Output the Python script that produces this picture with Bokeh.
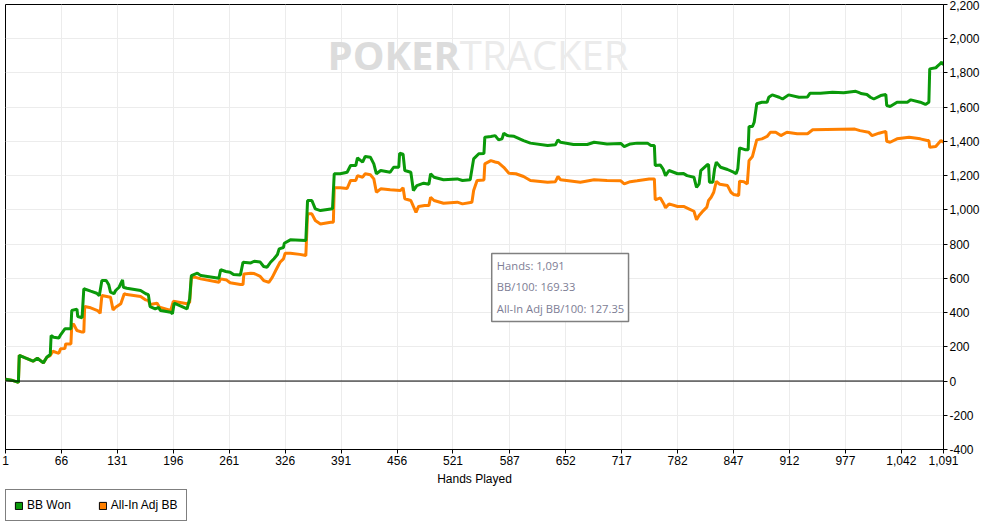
from bokeh.plotting import figure
from bokeh.layouts import column
from bokeh.models import (Range1d, FixedTicker, NumeralTickFormatter, Span, BoxAnnotation,
                          Label, Legend, LegendItem)
from bokeh.embed import file_html
from bokeh.resources import INLINE

# ---------------- data ----------------
x_ticks = [1, 66, 131, 196, 261, 326, 391, 456, 521, 587, 652, 717, 782, 847, 912, 977, 1042, 1091]
y_ticks = [-400, -200, 0, 200, 400, 600, 800, 1000, 1200, 1400, 1600, 1800, 2000, 2200]

hands_bb = [1, 8, 16, 17, 24, 33, 38, 45, 49, 53, 54, 57, 63, 65, 70, 77, 78, 84, 85, 90,
            92, 100, 107, 110, 113, 118, 121, 123, 127, 129, 133, 137, 138, 142, 158, 164, 167, 169, 175, 179,
            181, 193, 195, 197, 212, 215, 217, 224, 228, 249, 251, 257, 262, 266, 274, 277, 286, 290, 297, 301,
            305, 309, 313, 317, 319, 324, 325, 332, 350, 352, 357, 361, 367, 381, 383, 390, 398, 402, 408, 410,
            416, 419, 425, 429, 432, 437, 448, 452, 458, 459, 463, 465, 472, 475, 479, 487, 493, 495, 499, 510,
            526, 532, 541, 545, 551, 557, 558, 565, 570, 574, 578, 580, 584, 592, 603, 611, 631, 640, 643, 646,
            661, 677, 685, 700, 716, 720, 727, 735, 747, 751, 755, 756, 762, 765, 768, 772, 782, 789, 793, 801,
            804, 807, 809, 816, 818, 819, 823, 825, 827, 832, 840, 847, 850, 852, 854, 861, 864, 865, 869, 871,
            874, 880, 886, 888, 892, 900, 904, 911, 923, 933, 936, 948, 962, 975, 989, 993, 995, 1002, 1006, 1010,
            1018, 1024, 1025, 1029, 1037, 1049, 1053, 1064, 1070, 1074, 1075, 1082, 1084, 1087, 1089, 1091]
bb_won = [10, 5, -8, 150, 135, 116, 133, 106, 139, 155, 266, 256, 252, 270, 305, 305, 412, 420, 377, 370,
          539, 525, 513, 498, 587, 587, 562, 519, 510, 529, 548, 591, 548, 542, 529, 510, 505, 435, 422, 430,
          412, 402, 393, 455, 422, 480, 616, 630, 616, 601, 650, 640, 636, 622, 620, 694, 690, 700, 695, 669,
          665, 694, 715, 739, 772, 780, 805, 825, 821, 1055, 1055, 1006, 996, 1006, 1211, 1211, 1220, 1259, 1259, 1304,
          1279, 1312, 1308, 1269, 1211, 1230, 1220, 1249, 1249, 1331, 1325, 1230, 1220, 1113, 1142, 1156, 1150, 1211, 1191, 1176,
          1181, 1172, 1176, 1298, 1328, 1330, 1425, 1429, 1434, 1409, 1415, 1448, 1434, 1430, 1405, 1390, 1376, 1380, 1409, 1395,
          1382, 1382, 1395, 1385, 1388, 1370, 1385, 1390, 1390, 1376, 1376, 1259, 1262, 1240, 1200, 1230, 1211, 1212, 1200, 1191,
          1132, 1152, 1230, 1262, 1265, 1162, 1162, 1240, 1279, 1249, 1236, 1220, 1211, 1240, 1362, 1351, 1351, 1487, 1487, 1512,
          1620, 1629, 1629, 1658, 1672, 1658, 1648, 1672, 1658, 1660, 1682, 1682, 1687, 1685, 1693, 1685, 1680, 1674, 1658, 1648,
          1668, 1674, 1610, 1604, 1629, 1629, 1643, 1629, 1616, 1629, 1824, 1830, 1840, 1853, 1863, 1847]

hands_adj = [1, 8, 16, 17, 24, 33, 38, 45, 49, 53, 56, 63, 65, 70, 71, 77, 78, 80, 84, 90,
             92, 93, 100, 108, 111, 113, 123, 126, 129, 135, 139, 142, 158, 164, 167, 169, 177, 180, 193, 196,
             212, 215, 217, 222, 228, 249, 251, 258, 262, 274, 277, 278, 286, 290, 297, 301, 307, 311, 315, 320,
             324, 326, 332, 343, 350, 352, 357, 361, 367, 379, 382, 383, 390, 398, 402, 408, 410, 416, 419, 425,
             429, 432, 437, 448, 460, 463, 465, 472, 475, 478, 481, 488, 493, 495, 499, 510, 526, 532, 543, 545,
             549, 557, 558, 565, 570, 574, 580, 586, 594, 603, 611, 631, 640, 643, 646, 669, 685, 700, 716, 720,
             727, 735, 749, 755, 756, 762, 766, 768, 772, 782, 789, 795, 801, 804, 807, 812, 816, 818, 821, 824,
             827, 831, 840, 844, 847, 853, 854, 859, 863, 865, 869, 874, 880, 886, 890, 896, 902, 909, 921, 933,
             939, 988, 994, 1004, 1008, 1016, 1024, 1025, 1029, 1037, 1051, 1064, 1072, 1074, 1075, 1082, 1084, 1088, 1091]
allin_adj_bb = [10, 5, -8, 150, 135, 116, 133, 106, 139, 149, 174, 162, 188, 190, 217, 217, 324, 334, 295, 286,
                286, 435, 428, 412, 396, 500, 490, 416, 431, 451, 510, 505, 494, 474, 470, 447, 455, 431, 412, 466,
                451, 460, 606, 606, 597, 577, 597, 590, 574, 564, 564, 626, 630, 628, 611, 587, 577, 606, 646, 694,
                714, 747, 747, 740, 733, 977, 977, 938, 918, 928, 928, 1129, 1129, 1125, 1172, 1172, 1200, 1191, 1211, 1205,
                1181, 1103, 1123, 1117, 1113, 1129, 1065, 1055, 1020, 986, 1020, 1025, 1025, 1074, 1055, 1039, 1045, 1035, 1045, 1113,
                1172, 1175, 1269, 1288, 1280, 1275, 1249, 1214, 1211, 1195, 1172, 1162, 1165, 1195, 1176, 1162, 1176, 1172, 1170, 1152,
                1165, 1170, 1181, 1181, 1059, 1070, 1035, 1012, 1035, 1020, 1020, 1006, 992, 942, 967, 996, 1016, 1055, 1074, 1103,
                1166, 1150, 1142, 1103, 1090, 1084, 1168, 1165, 1152, 1288, 1312, 1409, 1415, 1429, 1454, 1454, 1434, 1454, 1445, 1445,
                1468, 1472, 1463, 1454, 1434, 1448, 1459, 1401, 1395, 1415, 1425, 1415, 1405, 1405, 1366, 1370, 1382, 1405, 1395]

series_names = ["BB Won", "All-In Adj BB"]
series_colors = ["#0a990a", "#ff8000"]
tooltip_lines = ["Hands: 1,091", "BB/100: 169.33", "All-In Adj BB/100: 127.35"]

assert len(hands_bb) == len(bb_won)
assert len(hands_adj) == len(allin_adj_bb)

FONT = "Liberation Sans"
NAN = float("nan")

# ---------------- main chart ----------------
p = figure(frame_width=938, frame_height=445,
           x_range=Range1d(1, 1091), y_range=Range1d(-400, 2200),
           y_axis_location="right", output_backend="svg", toolbar_location=None,
           min_border_left=5, min_border_top=4, min_border_right=44, min_border_bottom=40)
p.background_fill_color = "white"
p.border_fill_color = "white"
p.outline_line_color = "black"
p.outline_line_width = 1

p.xgrid.ticker = FixedTicker(ticks=x_ticks)
p.ygrid.ticker = FixedTicker(ticks=y_ticks)
p.grid.grid_line_color = "#ececec"
p.grid.grid_line_width = 1

for ax in (p.xaxis[0], p.yaxis[0]):
    ax.formatter = NumeralTickFormatter(format="0,0")
    ax.axis_line_color = "black"
    ax.major_tick_line_color = "black"
    ax.major_tick_out = 4
    ax.major_tick_in = 0
    ax.minor_tick_out = 0
    ax.minor_tick_in = 0
    ax.major_label_text_font = FONT
    ax.major_label_text_font_size = "12px"
    ax.major_label_text_color = "black"
    ax.major_label_standoff = 2
p.xaxis.ticker = FixedTicker(ticks=x_ticks)
p.yaxis.ticker = FixedTicker(ticks=y_ticks)
p.xaxis.axis_label = "Hands Played"
p.xaxis.axis_label_text_font = FONT
p.xaxis.axis_label_text_font_size = "12px"
p.xaxis.axis_label_text_font_style = "normal"
p.xaxis.axis_label_text_color = "black"
p.xaxis.axis_label_standoff = 4

# watermark
p.add_layout(Label(x=529, y=1908, text="POKER", text_align="right", text_baseline="middle",
                   text_font="Open Sans", text_font_style="bold", text_font_size="40px",
                   text_color="#dcdcdc", level="underlay"))
p.add_layout(Label(x=529, y=1908, text="TRACKER", text_align="left", text_baseline="middle",
                   text_font="Open Sans", text_font_size="40px",
                   text_color="#ebebeb", level="underlay"))

# zero line
p.add_layout(Span(location=0, dimension="width", line_color="black", line_width=1))

# series
p.line(hands_adj, allin_adj_bb, line_color=series_colors[1], line_width=3)
p.line(hands_bb, bb_won, line_color=series_colors[0], line_width=3)

# tooltip box
p.add_layout(BoxAnnotation(left=566, right=725, top=745, bottom=348,
                           fill_color="white", fill_alpha=1.0,
                           line_color="#808080", line_width=1.5, line_alpha=1.0))
for txt, yv in zip(tooltip_lines, [675, 550, 426]):
    p.add_layout(Label(x=572, y=yv, text=txt, text_baseline="middle", text_align="left",
                       text_font="Open Sans", text_font_size="11.2px", text_color="#7d7d94"))

# ---------------- legend strip ----------------
q = figure(width=400, height=38, output_backend="svg", toolbar_location=None,
           x_range=Range1d(0, 1), y_range=Range1d(0, 1),
           x_axis_location=None, y_axis_location=None,
           min_border_left=0, min_border_right=0, min_border_top=0, min_border_bottom=0)
q.grid.visible = False
q.outline_line_color = None
q.background_fill_color = "white"
q.border_fill_color = "white"
# legend proxies (NaN -> nothing drawn on the canvas, only the swatch in the legend)
sw_bb = q.quad(left=[NAN], right=[NAN], top=[NAN], bottom=[NAN],
               fill_color=series_colors[0], line_color="black")
sw_adj = q.quad(left=[NAN], right=[NAN], top=[NAN], bottom=[NAN],
                fill_color=series_colors[1], line_color="black")

legend = Legend(items=[LegendItem(label=series_names[0], renderers=[sw_bb]),
                       LegendItem(label=series_names[1], renderers=[sw_adj])],
                orientation="horizontal", location=(0, 6))
legend.label_text_font = FONT
legend.label_text_font_size = "12px"
legend.label_text_color = "black"
legend.glyph_width = 9
legend.glyph_height = 9
legend.label_standoff = 4
legend.spacing = 27
legend.padding = 8
legend.margin = 0
legend.border_line_color = "black"
legend.border_line_width = 1
legend.background_fill_color = "white"
legend.background_fill_alpha = 1.0
q.add_layout(legend, "center")

layout = column(p, q, spacing=0)
open("out.html", "w").write(file_html(layout, INLINE))
